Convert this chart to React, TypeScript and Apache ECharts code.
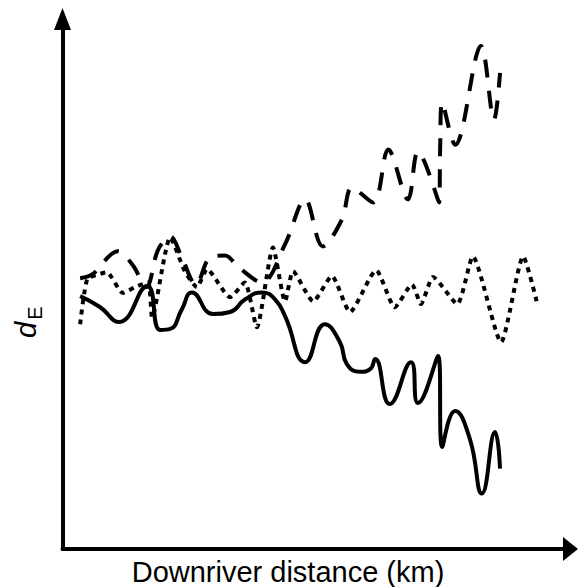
import React, { useEffect, useRef } from "react";
import * as echarts from "echarts";

// Downriver distance (axis units 0..100), dE values (axis units 0..100)
const solidX = [3.5, 7.5, 11.2, 16.8, 19.4, 21.4, 23.7, 25.7, 29.9, 33.3, 36.3, 39.6, 42.2, 44.2, 48.2, 52.1, 55.1, 56.5, 59.1, 61.1, 62.1, 65.0, 69.2, 70.6, 74.6, 75.4, 78.0, 80.9, 83.3, 85.9, 86.9];
const solidY = [47.8, 45.7, 42.9, 49.7, 41.4, 41.6, 45.3, 48.5, 44.4, 44.8, 47.2, 48.5, 47.2, 44.0, 35.3, 42.5, 39.1, 34.9, 33.5, 34.0, 35.9, 27.4, 35.3, 27.6, 36.5, 19.3, 26.1, 20.8, 10.5, 22.1, 15.2];

const dashedX = [3.5, 5.9, 11.0, 14.0, 16.6, 19.0, 21.4, 23.7, 26.5, 29.3, 32.3, 34.9, 39.6, 44.2, 48.2, 51.7, 55.5, 57.5, 61.7, 64.7, 68.6, 70.6, 74.8, 75.0, 75.4, 78.0, 83.1, 85.7, 86.9];
const dashedY = [51.2, 51.9, 56.3, 53.6, 49.5, 56.6, 59.1, 55.1, 50.0, 55.1, 55.5, 53.3, 50.4, 57.6, 66.1, 57.2, 62.3, 68.3, 65.5, 75.5, 66.1, 75.1, 65.5, 75.5, 84.4, 76.4, 95.1, 81.2, 90.0];

const dottedX = [3.5, 4.9, 7.1, 8.8, 12.0, 14.4, 17.0, 17.8, 21.4, 24.3, 26.7, 28.7, 33.3, 36.2, 38.6, 41.8, 44.2, 45.8, 49.8, 53.5, 57.1, 62.3, 66.0, 69.4, 71.2, 73.6, 78.4, 81.5, 87.1, 91.5, 94.2];
const dottedY = [42.5, 51.0, 51.9, 52.3, 48.4, 49.5, 50.4, 43.8, 58.9, 52.5, 49.5, 52.9, 47.6, 50.4, 41.9, 57.0, 46.8, 52.5, 46.8, 51.6, 44.8, 52.7, 45.7, 50.0, 46.3, 51.4, 46.3, 55.3, 39.1, 55.3, 46.7];

const xLabel = "Downriver distance (km)";
const yLabelMain = "d";
const yLabelSub = "E";

const pairs = (xs: number[], ys: number[]) => xs.map((x, i) => [x, ys[i]]);

export default function App() {
  const ref = useRef<HTMLDivElement>(null);
  useEffect(() => {
    if (!ref.current) return;
    const chart = echarts.init(ref.current, undefined, { renderer: "svg" });
    const font = "'Liberation Sans', Arial, sans-serif";
    const lineBase = { color: "#000", width: 4, cap: "butt" as const };
    chart.setOption({
      animation: false,
      backgroundColor: "#fff",
      grid: { left: 62.5, right: 13, top: 20, bottom: 38 },
      xAxis: {
        type: "value",
        min: 0,
        max: 100,
        axisLine: {
          show: true,
          symbol: ["none", "triangle"],
          symbolSize: [24, 15],
          symbolOffset: [0, 4.5],
          lineStyle: { color: "#000", width: 4 },
        },
        axisTick: { show: false },
        axisLabel: { show: false },
        splitLine: { show: false },
      },
      yAxis: {
        type: "value",
        min: 0,
        max: 100,
        axisLine: {
          show: true,
          symbol: ["none", "triangle"],
          symbolSize: [17, 22],
          symbolOffset: [0, 1],
          lineStyle: { color: "#000", width: 4 },
        },
        axisTick: { show: false },
        axisLabel: { show: false },
        splitLine: { show: false },
      },
      graphic: [
        {
          type: "text",
          x: 288,
          y: 572,
          style: {
            text: xLabel,
            x: 0,
            y: 0,
            fill: "#000",
            font: `29px ${font}`,
            align: "center",
            verticalAlign: "middle",
          },
        },
        {
          type: "group",
          x: 30,
          y: 322,
          rotation: Math.PI / 2,
          children: [
            {
              type: "text",
              x: -8,
              y: -4,
              style: {
                text: yLabelMain,
                fill: "#000",
                font: `italic 29px ${font}`,
                align: "center",
                verticalAlign: "middle",
              },
            },
            {
              type: "text",
              x: 9,
              y: 5,
              style: {
                text: yLabelSub,
                fill: "#000",
                font: `20px ${font}`,
                align: "center",
                verticalAlign: "middle",
              },
            },
          ],
        },
      ],
      series: [
        {
          type: "line",
          data: pairs(solidX, solidY),
          symbol: "none",
          smooth: 0.5,
          lineStyle: { ...lineBase, type: "solid" },
        },
        {
          type: "line",
          data: pairs(dashedX, dashedY),
          symbol: "none",
          smooth: 0.35,
          lineStyle: { ...lineBase, type: [18, 13] },
        },
        {
          type: "line",
          data: pairs(dottedX, dottedY),
          symbol: "none",
          smooth: 0.2,
          lineStyle: { ...lineBase, type: [5, 5] },
        },
      ],
    });
    return () => chart.dispose();
  }, []);
  return <div ref={ref} style={{ width: 579, height: 587, position: "absolute", left: 0, top: 0 }} />;
}
